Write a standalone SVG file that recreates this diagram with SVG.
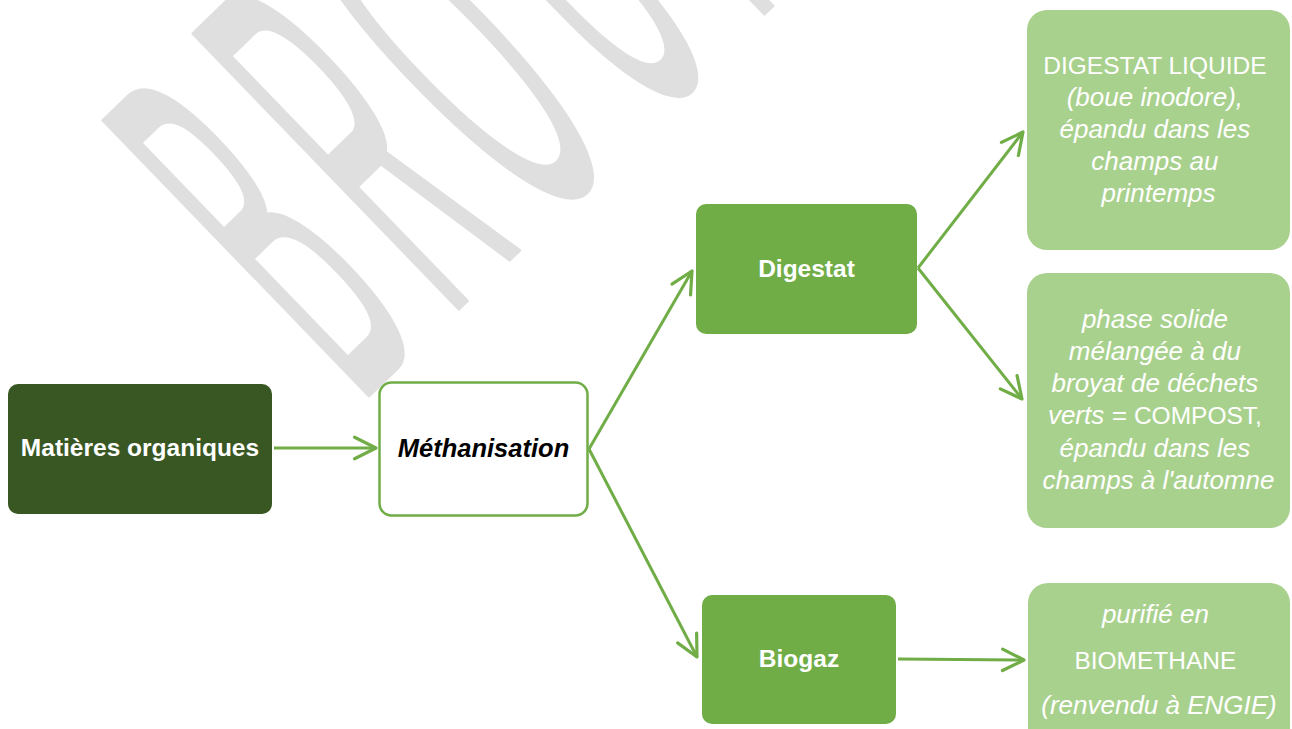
<svg xmlns="http://www.w3.org/2000/svg" width="1292" height="729" viewBox="0 0 1292 729">
<style>
.wm{font-family:"Liberation Sans",Arial,sans-serif;font-size:100px;fill:#dfdfdf;stroke:#dfdfdf;stroke-width:3px;vector-effect:non-scaling-stroke;stroke-linejoin:round}
.dark{fill:#385723}
.mid{fill:#70ad47}
.light{fill:#a9d18e}
.lbl{font-family:"Liberation Sans",Arial,sans-serif;font-weight:bold;font-size:24.5px;fill:#ffffff;text-anchor:middle}
.txt{font-family:"Liberation Sans",Arial,sans-serif;font-size:26px;fill:#ffffff;text-anchor:middle}
.it{font-style:italic}
.cap{font-style:normal;font-size:24.5px}
.conn{stroke:#70ad47;stroke-width:3;fill:none;marker-end:url(#arr)}
</style>
<defs>
<marker id="arr" markerUnits="userSpaceOnUse" markerWidth="30" markerHeight="30" viewBox="-24 -14 28 28" refX="0" refY="0" orient="auto">
<path d="M-20,-10 L0,0 L-20,10" fill="none" stroke="#70ad47" stroke-width="3" stroke-linecap="round" stroke-linejoin="round"/>
</marker>
</defs>
<rect width="1292" height="729" fill="#ffffff"/>
<g id="watermark">
<text class="wm" transform="translate(367,397) rotate(-44) scale(1.45,5.55)" x="-7.3 78.9 168 271.5 370.8 398.6 454.2 509.8 587.6" y="0">BROUILLON</text>
</g>
<g id="connectors">
<line class="conn" x1="274" y1="448" x2="376" y2="448"/>
<line class="conn" x1="589" y1="449" x2="692" y2="271"/>
<line class="conn" x1="589" y1="449" x2="697" y2="657"/>
<line class="conn" x1="918" y1="268" x2="1023" y2="132"/>
<line class="conn" x1="918" y1="268" x2="1022" y2="399"/>
<line class="conn" x1="898" y1="659" x2="1024" y2="660"/>
</g>
<g id="matieres">
<rect class="dark" x="8" y="384" width="264" height="130" rx="10"/>
<text class="lbl" x="140" y="456">Matières organiques</text>
</g>
<g id="methanisation">
<rect x="379.5" y="382.5" width="208" height="133" rx="12" fill="#ffffff" stroke="#70ad47" stroke-width="2.5"/>
<text class="lbl it" x="483.5" y="457" style="fill:#000000;font-size:25.5px">Méthanisation</text>
</g>
<g id="digestat">
<rect class="mid" x="696" y="204" width="221" height="130" rx="10"/>
<text class="lbl" x="806.5" y="277">Digestat</text>
</g>
<g id="biogaz">
<rect class="mid" x="702" y="595" width="194" height="129" rx="10"/>
<text class="lbl" x="799" y="667">Biogaz</text>
</g>
<g id="digestat-liquide">
<rect class="light" x="1027" y="10" width="263" height="240" rx="20"/>
<text class="txt" x="1158.5">
<tspan class="cap" x="1158.5" y="74">DIGESTAT LIQUIDE</tspan>
<tspan class="it" x="1158.5" y="106">(boue inodore),</tspan>
<tspan class="it" x="1158.5" y="138">épandu dans les</tspan>
<tspan class="it" x="1158.5" y="170">champs au</tspan>
<tspan class="it" x="1158.5" y="202">printemps</tspan>
</text>
</g>
<g id="compost">
<rect class="light" x="1027" y="273" width="263" height="255" rx="20"/>
<text class="txt" x="1158.5">
<tspan class="it" x="1158.5" y="328">phase solide</tspan>
<tspan class="it" x="1158.5" y="360">mélangée à du</tspan>
<tspan class="it" x="1158.5" y="392">broyat de déchets</tspan>
<tspan x="1158.5" y="424"><tspan class="it">verts = </tspan><tspan class="cap">COMPOST,</tspan></tspan>
<tspan class="it" x="1158.5" y="457">épandu dans les</tspan>
<tspan class="it" x="1158.5" y="489">champs à l'automne</tspan>
</text>
</g>
<g id="biomethane">
<rect class="light" x="1028" y="583" width="262" height="170" rx="20"/>
<text class="txt" x="1159">
<tspan class="it" x="1159" y="623">purifié en</tspan>
<tspan class="cap" x="1159" y="669">BIOMETHANE</tspan>
<tspan class="it" x="1159" y="714">(renvendu à ENGIE)</tspan>
</text>
</g>
</svg>
